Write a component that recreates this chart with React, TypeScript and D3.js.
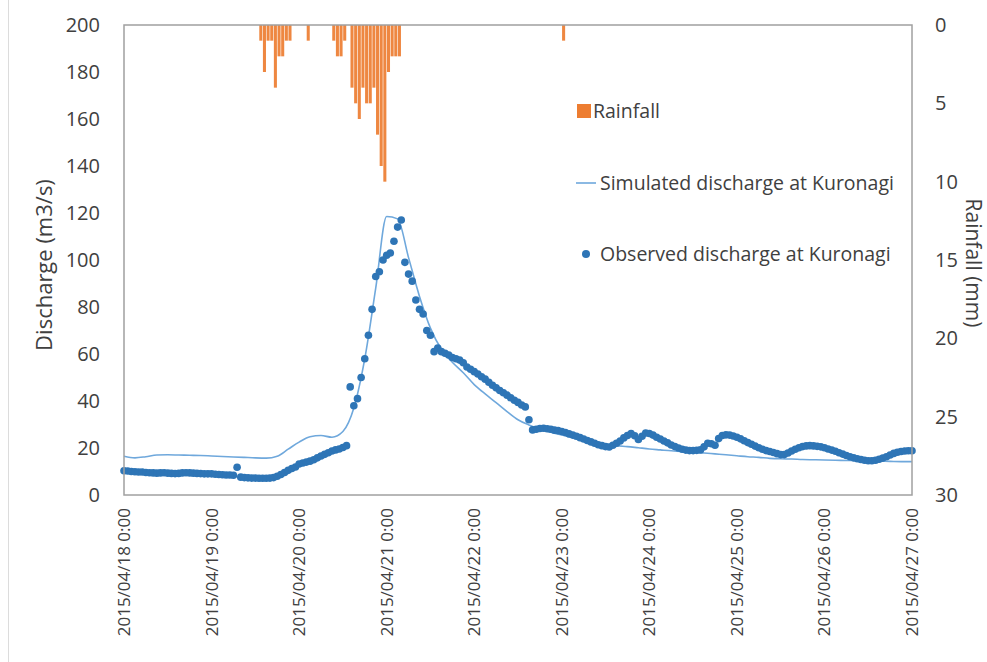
import { useEffect, useRef } from "react";
import { select, scaleUtc, scaleLinear, line, curveMonotoneX, utcFormat, utcDay } from "d3";

const WIDTH = 987;
const HEIGHT = 662;
const PLOT = { left: 124, right: 912, top: 25, bottom: 495 };

const ORANGE = "#ed7d31"; // rainfall
const DOT_BLUE = "#2e75b6"; // observed
const LINE_BLUE = "#6fa8dc"; // simulated
const TEXT = "#404040";
const FONT = "'Open Sans', 'Liberation Sans', sans-serif";

const START = "2015-04-18T00:00Z";
const END = "2015-04-27T00:00Z";

const Q_TICKS = [0, 20, 40, 60, 80, 100, 120, 140, 160, 180, 200];
const RAIN_TICKS = [0, 5, 10, 15, 20, 25, 30];

// hourly rainfall (mm), only non-zero hours
const RAIN_TIMES = [
  "2015-04-19T13:00Z", "2015-04-19T14:00Z", "2015-04-19T15:00Z", "2015-04-19T16:00Z",
  "2015-04-19T17:00Z", "2015-04-19T18:00Z", "2015-04-19T19:00Z", "2015-04-19T20:00Z",
  "2015-04-19T21:00Z", "2015-04-20T02:00Z", "2015-04-20T09:00Z", "2015-04-20T10:00Z",
  "2015-04-20T11:00Z", "2015-04-20T12:00Z", "2015-04-20T14:00Z", "2015-04-20T15:00Z",
  "2015-04-20T16:00Z", "2015-04-20T17:00Z", "2015-04-20T18:00Z", "2015-04-20T19:00Z",
  "2015-04-20T20:00Z", "2015-04-20T21:00Z", "2015-04-20T22:00Z", "2015-04-20T23:00Z",
  "2015-04-21T00:00Z", "2015-04-21T01:00Z", "2015-04-21T02:00Z", "2015-04-21T03:00Z",
  "2015-04-23T00:00Z",
];
const RAIN_MM = [
  1, 3, 1, 1, 4, 2, 2, 1, 1, 1, 1, 2, 2, 1, 4, 5, 6, 4, 5, 5, 4, 7, 9, 10, 3, 2, 2, 2, 1,
];

// observed discharge (m3/s), hourly from START
const OBS_STEP_H = 1;
const OBS_Q = [
  10.3, 10.2, 10.0, 9.9, 9.8, 9.8, 9.6, 9.5, 9.4, 9.3, 9.4, 9.5, 9.3, 9.2, 9.1, 9.2, 9.4, 9.5, 9.4, 9.3,
  9.2, 9.1, 9.0, 9.0, 9.0, 8.8, 8.7, 8.6, 8.5, 8.5, 8.4, 11.8, 7.6, 7.4, 7.3, 7.2, 7.2, 7.1, 7.1, 7.1,
  7.2, 7.4, 8.0, 8.7, 9.6, 10.5, 11.3, 11.9, 13.2, 13.6, 14.0, 14.4, 15.0, 15.8, 16.6, 17.3, 18.0, 18.7, 19.2, 19.6,
  20.2, 21.0, 46, 38, 41, 50, 58, 68, 79, 93, 95, 100, 102, 103, 108, 114, 117, 99, 94, 91,
  83, 79, 77, 70, 68, 61, 62.5, 61, 60.3, 59.6, 58.5, 58, 57.4, 56.3, 54.5, 53.5, 52.5, 51.5, 50.3, 49.3,
  48, 46.7, 45.6, 44.5, 43.5, 42.5, 41.4, 40.3, 39.4, 38.3, 37.5, 32, 27.7, 28, 28.3, 28.4, 28.2, 28, 27.6, 27.4,
  27, 26.6, 26.0, 25.5, 25, 24.4, 23.8, 23.2, 22.6, 22.0, 21.4, 21, 20.6, 20.4, 21.2, 22, 23, 24.3, 25.3, 26.2,
  25.2, 23.6, 25, 26.4, 26.2, 25.5, 24.6, 23.8, 23, 22.2, 21.3, 20.6, 20, 19.5, 19.1, 18.9, 18.9, 19, 19.2, 20.5,
  22, 21.8, 21.2, 24, 25.3, 25.6, 25.5, 25.1, 24.6, 23.9, 23.1, 22.3, 21.6, 20.8, 20.1, 19.5, 18.9, 18.5, 18.1, 17.6,
  17.2, 17.2, 17.9, 18.7, 19.5, 20.1, 20.6, 20.9, 21, 20.9, 20.7, 20.5, 20.1, 19.6, 19.1, 18.6, 18.0, 17.4, 16.8, 16.3,
  15.8, 15.4, 15.1, 14.8, 14.6, 14.6, 14.8, 15.2, 15.7, 16.3, 17, 17.7, 18.2, 18.5, 18.7, 18.8, 18.8,
];

// simulated discharge (m3/s), every 3 hours from START
const SIM_STEP_H = 3;
const SIM_Q = [
  16.5, 15.8, 16.3, 17.0, 17.1, 17.0, 16.9, 16.8, 16.6, 16.4, 16.2, 16.0, 15.8, 15.7, 16.5, 19.5, 22.5, 24.8, 25.3, 24.6,
  27.0, 37, 58, 88, 118.5, 117.5, 101, 84.5, 71, 62, 56.5, 52, 47, 43, 39.3, 35.5, 32, 29.8, 28, 26.7,
  25.5, 24.5, 23.5, 22.4, 21.6, 21.0, 20.6, 20.1, 19.6, 19.2, 18.8, 18.5, 18.3, 17.9, 17.5, 17.1, 16.7, 16.3, 16.0, 15.6,
  15.4, 15.3, 15.1, 15.0, 14.9, 14.8, 14.7, 14.6, 14.5, 14.4, 14.3, 14.2, 14.2,
];

const HOUR = 3600 * 1000;

export default function App() {
  const svgRef = useRef<SVGSVGElement>(null);

  useEffect(() => {
    const svg = select(svgRef.current);
    svg.selectAll("*").remove();
    svg.attr("width", WIDTH).attr("height", HEIGHT);

    const t0 = new Date(START).getTime();
    const x = scaleUtc()
      .domain([new Date(START), new Date(END)])
      .range([PLOT.left, PLOT.right]);
    const yQ = scaleLinear().domain([0, 200]).range([PLOT.bottom, PLOT.top]);
    const yR = scaleLinear().domain([0, 30]).range([PLOT.top, PLOT.bottom]);

    svg.append("rect").attr("width", WIDTH).attr("height", HEIGHT).attr("fill", "#ffffff");

    // faint outer image border on the left
    svg.append("line")
      .attr("x1", 8.5).attr("x2", 8.5).attr("y1", 0).attr("y2", HEIGHT)
      .attr("stroke", "#dcdcdc").attr("stroke-width", 1);

    // rainfall bars hanging from the top
    RAIN_TIMES.forEach((ts, i) => {
      const d = new Date(ts);
      const x0 = x(d);
      const x1 = x(new Date(d.getTime() + HOUR));
      svg.append("rect")
        .attr("x", x0 + 0.3)
        .attr("y", yR(0))
        .attr("width", Math.max(0, x1 - x0 - 0.6))
        .attr("height", yR(RAIN_MM[i]) - yR(0))
        .attr("fill", ORANGE)
        .attr("opacity", 0.92);
    });

    // simulated line
    const simPts = SIM_Q.map((q, i) => [new Date(t0 + i * SIM_STEP_H * HOUR), q] as [Date, number]);
    svg.append("path")
      .attr("d", line<[Date, number]>().x((d) => x(d[0])).y((d) => yQ(d[1])).curve(curveMonotoneX)(simPts))
      .attr("fill", "none")
      .attr("stroke", LINE_BLUE)
      .attr("stroke-width", 1.6);

    // observed dots
    OBS_Q.forEach((q, i) => {
      svg.append("circle")
        .attr("cx", x(new Date(t0 + i * OBS_STEP_H * HOUR)))
        .attr("cy", yQ(q))
        .attr("r", 3.8)
        .attr("fill", DOT_BLUE);
    });

    // plot frame
    svg.append("rect")
      .attr("x", PLOT.left)
      .attr("y", PLOT.top)
      .attr("width", PLOT.right - PLOT.left)
      .attr("height", PLOT.bottom - PLOT.top)
      .attr("fill", "none")
      .attr("stroke", "#a0a0a0")
      .attr("stroke-width", 1.5);

    // left axis labels
    Q_TICKS.forEach((v) => {
      svg.append("text")
        .attr("x", 100)
        .attr("y", yQ(v))
        .attr("dy", "0.35em")
        .attr("text-anchor", "end")
        .attr("font-family", FONT)
        .attr("font-size", "20px")
        .attr("fill", TEXT)
        .text(v);
    });

    // right axis labels
    RAIN_TICKS.forEach((v) => {
      svg.append("text")
        .attr("x", 935)
        .attr("y", yR(v))
        .attr("dy", "0.35em")
        .attr("text-anchor", "start")
        .attr("font-family", FONT)
        .attr("font-size", "20px")
        .attr("fill", TEXT)
        .text(v);
    });

    // date labels
    const fmt = utcFormat("%Y/%m/%d %-H:%M");
    x.ticks(utcDay.every(1)!).forEach((d) => {
      svg.append("text")
        .attr("transform", `translate(${x(d)},508) rotate(-90)`)
        .attr("dy", "0.35em")
        .attr("text-anchor", "end")
        .attr("font-family", FONT)
        .attr("font-size", "17px")
        .attr("fill", TEXT)
        .text(fmt(d));
    });

    // axis titles
    svg.append("text")
      .attr("transform", `translate(44,265) rotate(-90)`)
      .attr("dy", "0.35em")
      .attr("text-anchor", "middle")
      .attr("font-family", FONT)
      .attr("font-size", "22px")
      .attr("fill", TEXT)
      .text("Discharge (m3/s)");
    svg.append("text")
      .attr("transform", `translate(973,263) rotate(90)`)
      .attr("dy", "0.35em")
      .attr("text-anchor", "middle")
      .attr("font-family", FONT)
      .attr("font-size", "21px")
      .attr("fill", TEXT)
      .text("Rainfall (mm)");

    // legend
    const leg = svg.append("g");
    leg.append("rect")
      .attr("x", 577).attr("y", 104).attr("width", 14).attr("height", 14)
      .attr("fill", ORANGE);
    leg.append("line")
      .attr("x1", 576).attr("x2", 596).attr("y1", 183).attr("y2", 183)
      .attr("stroke", LINE_BLUE).attr("stroke-width", 1.6);
    leg.append("circle")
      .attr("cx", 586).attr("cy", 254).attr("r", 4)
      .attr("fill", DOT_BLUE);
    [
      { label: "Rainfall", x: 593, y: 111 },
      { label: "Simulated discharge at Kuronagi", x: 600, y: 183 },
      { label: "Observed discharge at Kuronagi", x: 600, y: 254 },
    ].forEach((l) => {
      leg.append("text")
        .attr("x", l.x)
        .attr("y", l.y)
        .attr("dy", "0.35em")
        .attr("font-family", FONT)
        .attr("font-size", "19.5px")
        .attr("fill", TEXT)
        .text(l.label);
    });
  }, []);

  return (
    <svg
      ref={svgRef}
      style={{ position: "absolute", left: 0, top: 0, display: "block" }}
    />
  );
}
